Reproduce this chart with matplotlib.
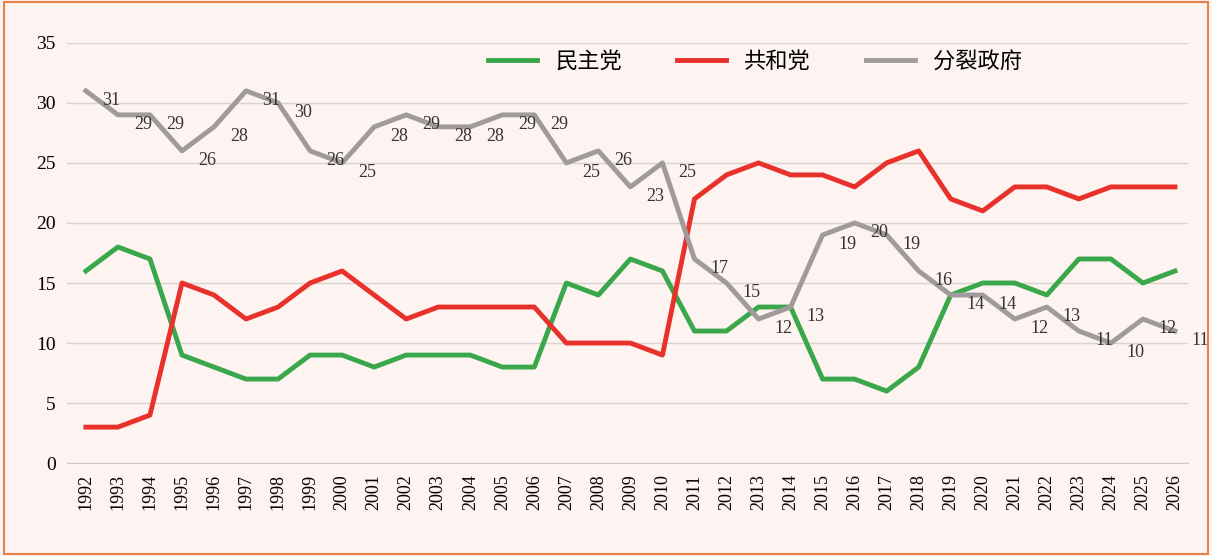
import matplotlib.pyplot as plt
from matplotlib.patches import Rectangle

years = list(range(1992, 2027))
dem = [16, 18, 17, 9, 8, 7, 7, 9, 9, 8, 9, 9, 9, 8, 8, 15, 14, 17, 16, 11, 11, 13, 13, 7, 7, 6, 8, 14, 15, 15, 14, 17, 17, 15, 16]
rep = [3, 3, 4, 15, 14, 12, 13, 15, 16, 14, 12, 13, 13, 13, 13, 10, 10, 10, 9, 22, 24, 25, 24, 24, 23, 25, 26, 22, 21, 23, 23, 22, 23, 23, 23]
split = [31, 29, 29, 26, 28, 31, 30, 26, 25, 28, 29, 28, 28, 29, 29, 25, 26, 23, 25, 17, 15, 12, 13, 19, 20, 19, 16, 14, 14, 12, 13, 11, 10, 12, 11]

bg = '#fdf3f1'
fig = plt.figure(figsize=(12.12, 5.56), dpi=100, facecolor=bg)
fig.patches.append(Rectangle((0.003, 0.004), 0.994, 0.992, transform=fig.transFigure,
                             fill=False, edgecolor='#e8804a', linewidth=1.5))
ax = fig.add_axes([0.055, 0.167, 0.925, 0.756])
ax.set_facecolor(bg)

ax.plot(years, dem, color='#3aa84a', lw=3.5, label='民主党')
ax.plot(years, rep, color='#e8312a', lw=3.5, label='共和党')
ax.plot(years, split, color='#a09b9b', lw=3.5, label='分裂政府')

for x, v in zip(years, split):
    ax.annotate(str(v), (x, v), xytext=(18, -7), textcoords='offset points',
                ha='center', va='center', fontsize=13, family='Liberation Serif', color='#333333')

ax.set_ylim(0, 35)
ax.set_yticks(range(0, 36, 5))
ax.set_xlim(1991.4, 2026.4)
ax.set_xticks(years)
ax.set_xticklabels([str(y) for y in years], rotation=90, family='Liberation Serif', fontsize=13)
for t in ax.get_yticklabels():
    t.set_family('Liberation Serif')
    t.set_fontsize(14)
ax.grid(axis='y', color='#d8d2d0', lw=1)
ax.set_axisbelow(True)
for s in ['top', 'right', 'left']:
    ax.spines[s].set_visible(False)
ax.spines['bottom'].set_color('#cccccc')
ax.tick_params(length=0, pad=8)

ax.legend(loc='upper right', bbox_to_anchor=(0.87, 1.03), ncol=3, frameon=False,
          prop={'family': 'Noto Sans CJK SC', 'size': 16}, handlelength=2.2, columnspacing=2.5)

fig.savefig('out.png', facecolor=bg)
